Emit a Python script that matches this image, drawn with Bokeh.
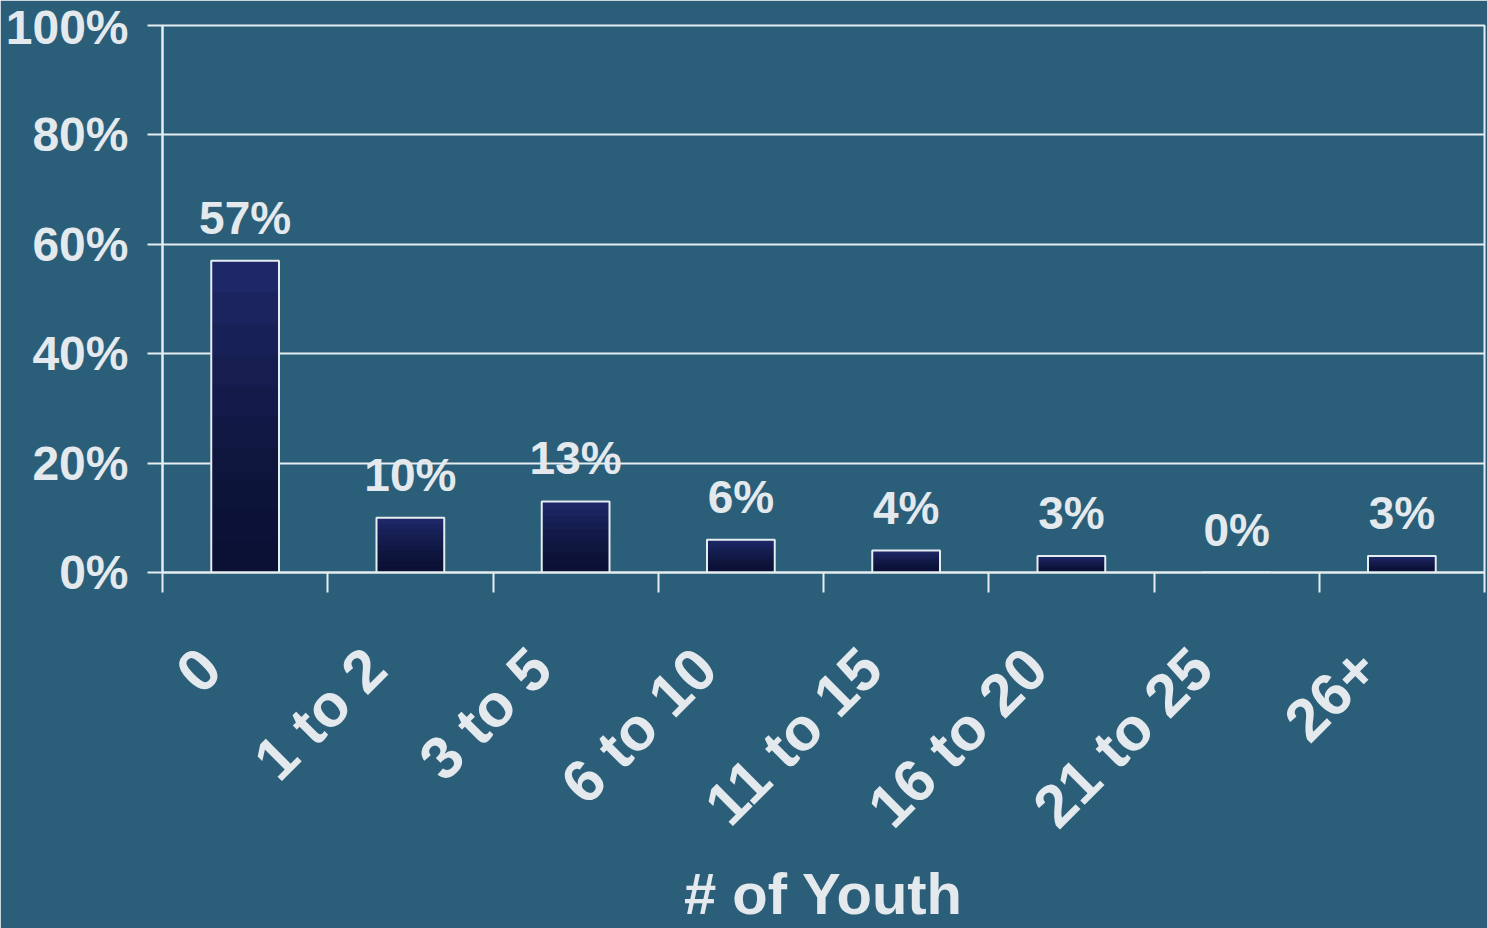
import math
import numpy as np
from bokeh.plotting import figure
from bokeh.models import Range1d, LinearAxis, FixedTicker
from bokeh.core.properties import value
from bokeh.embed import file_html
from bokeh.resources import INLINE

categories = ["0", "1 to 2", "3 to 5", "6 to 10", "11 to 15", "16 to 20", "21 to 25", "26+"]
percents = [57, 10, 13, 6, 4, 3, 0, 3]
y_ticks = [0, 20, 40, 60, 80, 100]
x_title = "# of Youth"

BG = "#2a5e79"
FG = "#e4e9ed"
LINE = "#e6edf1"
FONT = "Liberation Sans"
BAR_BOTTOM = (11, 17, 52)
BAR_TOP = (32, 42, 108)

n = len(categories)
p = figure(width=1487, height=928, x_range=Range1d(0, n), y_range=Range1d(0, 100),
           output_backend="svg", toolbar_location=None, x_axis_location=None,
           min_border_left=162, min_border_right=3, min_border_top=25, min_border_bottom=356)
p.background_fill_color = BG
p.border_fill_color = BG
p.outline_line_color = LINE
p.outline_line_width = 2

p.xgrid.visible = False
p.ygrid.ticker = FixedTicker(ticks=y_ticks)
p.ygrid.grid_line_color = LINE
p.ygrid.grid_line_width = 2

ya = p.yaxis[0]
ya.ticker = FixedTicker(ticks=y_ticks)
ya.major_label_overrides = {t: f"{t}%" for t in y_ticks}
ya.major_label_text_font = FONT
ya.major_label_text_font_size = "48px"
ya.major_label_text_font_style = "bold"
ya.major_label_text_color = FG
ya.major_label_standoff = 19
ya.axis_line_color = LINE
ya.axis_line_width = 2
ya.major_tick_line_color = LINE
ya.major_tick_line_width = 2
ya.major_tick_out = 15
ya.major_tick_in = 0
ya.minor_tick_line_color = None

# tick-mark axis at category boundaries
xa1 = LinearAxis(ticker=FixedTicker(ticks=list(range(n + 1))),
                 major_label_overrides={i: "" for i in range(n + 1)},
                 major_label_text_font_size="1px", major_label_standoff=0,
                 axis_line_color=LINE, axis_line_width=2,
                 major_tick_line_color=LINE, major_tick_line_width=2,
                 major_tick_out=20, major_tick_in=0, minor_tick_line_color=None)
p.add_layout(xa1, "below")

# category labels axis
p.extra_x_ranges = {"lab": Range1d(-0.29, n - 0.29)}
xa2 = LinearAxis(x_range_name="lab", ticker=FixedTicker(ticks=list(range(n))),
                 major_label_overrides={i: c for i, c in enumerate(categories)},
                 major_label_orientation=math.pi / 4,
                 major_label_text_font=FONT, major_label_text_font_size="60px",
                 major_label_text_font_style="bold", major_label_text_color=FG,
                 major_label_standoff=66,
                 axis_line_color=None, major_tick_line_color=None, major_tick_out=0,
                 major_tick_in=0, minor_tick_line_color=None,
                 axis_label=x_title, axis_label_text_font=FONT,
                 axis_label_text_font_size="58px", axis_label_text_font_style="bold",
                 axis_label_text_color=FG, axis_label_standoff=-6)
p.add_layout(xa2, "below")

cx = np.arange(n) + 0.5
vals = np.array(percents, dtype=float)
nb = 10
for k in range(nb):
    t = (k + 0.5) / nb
    col = "#%02x%02x%02x" % tuple(int(round(BAR_BOTTOM[j] + (BAR_TOP[j] - BAR_BOTTOM[j]) * t ** 1.6)) for j in range(3))
    p.vbar(x=cx, bottom=vals * k / nb, top=vals * (k + 1) / nb, width=0.41,
           fill_color=col, line_color=col, line_width=1)
p.vbar(x=cx, bottom=0, top=vals, width=0.41, fill_color=None, line_color=LINE, line_width=2)

p.text(x=cx, y=vals, text=[f"{v}%" for v in percents], text_align="center",
       text_baseline="bottom", y_offset=-17, text_font=value(FONT),
       text_font_size="46px", text_font_style="bold", text_color=FG)

open("out.html", "w").write(file_html(p, INLINE))
